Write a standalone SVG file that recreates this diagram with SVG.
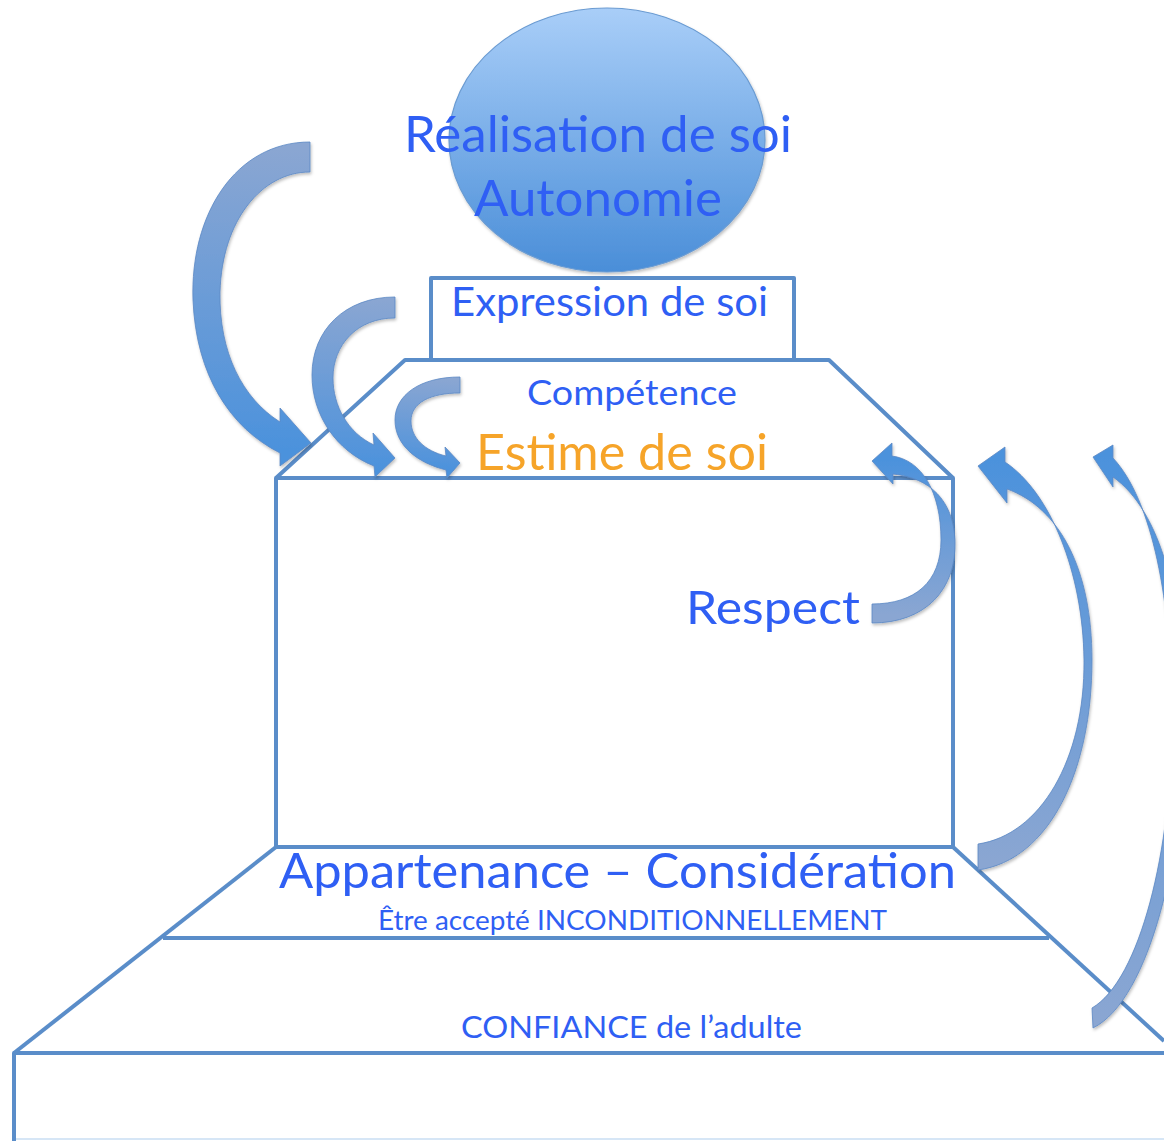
<svg xmlns="http://www.w3.org/2000/svg" width="1164" height="1141" viewBox="0 0 1164 1141">
  <defs>
    <linearGradient id="ballFill" x1="0" y1="0" x2="0" y2="1">
      <stop offset="0" stop-color="#a9cef8"/>
      <stop offset="1" stop-color="#4a8ed8"/>
    </linearGradient>
    <filter id="soft" x="-10%" y="-10%" width="120%" height="120%">
      <feDropShadow dx="1" dy="2" stdDeviation="1.5" flood-color="#000" flood-opacity="0.25"/>
    </filter>
    <linearGradient id="g1" gradientUnits="userSpaceOnUse" x1="310" y1="150" x2="300" y2="450">
      <stop offset="0" stop-color="#8aa6d2"/>
      <stop offset="1" stop-color="#4c92dc"/>
    </linearGradient>
    <linearGradient id="g2" gradientUnits="userSpaceOnUse" x1="395" y1="300" x2="390" y2="470">
      <stop offset="0" stop-color="#8aa6d2"/>
      <stop offset="1" stop-color="#4c92dc"/>
    </linearGradient>
    <linearGradient id="g3" gradientUnits="userSpaceOnUse" x1="460" y1="380" x2="455" y2="470">
      <stop offset="0" stop-color="#8aa6d2"/>
      <stop offset="1" stop-color="#4c92dc"/>
    </linearGradient>
    <linearGradient id="g4" gradientUnits="userSpaceOnUse" x1="880" y1="615" x2="880" y2="460">
      <stop offset="0" stop-color="#8aa6d2"/>
      <stop offset="1" stop-color="#4c92dc"/>
    </linearGradient>
    <linearGradient id="g5" gradientUnits="userSpaceOnUse" x1="985" y1="860" x2="985" y2="460">
      <stop offset="0" stop-color="#8aa6d2"/>
      <stop offset="1" stop-color="#4c92dc"/>
    </linearGradient>
    <linearGradient id="g6" gradientUnits="userSpaceOnUse" x1="1095" y1="1020" x2="1095" y2="455">
      <stop offset="0" stop-color="#8aa6d2"/>
      <stop offset="1" stop-color="#4c92dc"/>
    </linearGradient>
  </defs>
  <style>
    .frame { fill: none; stroke: #5a8dc9; stroke-width: 4; stroke-linejoin: round; }
    .lbl { font-family: Lato, "Open Sans", "Liberation Sans", sans-serif; fill: #2f5ff4; }
    .est { fill: #f6a429; }
    .arrow { stroke: #5a88c4; stroke-width: 0.8; filter: url(#soft); }
  </style>

  <!-- pyramid frame -->
  <g id="base" class="frame">
    <path d="M14,1141 V1053 H1164"/>
    <path d="M276,847 L14,1053"/>
    <path d="M953,847 L1164,1041"/>
    <line x1="16" y1="1139" x2="1164" y2="1139" stroke="#d6e6f6" stroke-width="2"/>
  </g>
  <g id="appartenance" class="frame">
    <path d="M163,938 H1049"/>
  </g>
  <g id="respect" class="frame">
    <rect x="276" y="478" width="677" height="369"/>
  </g>
  <g id="estime" class="frame">
    <path d="M276,478 L405,360 H829 L953,478"/>
  </g>
  <g id="expression" class="frame">
    <path d="M431,360 V278 H794 V360"/>
  </g>
  <g id="realisation">
    <ellipse cx="607" cy="140" rx="158" ry="132" fill="url(#ballFill)" stroke="#6a9bd2" stroke-width="1.2" filter="url(#soft)"/>
  </g>

  <!-- curved arrows -->
  <g id="connectors" class="arrow">
    <path fill="url(#g1)" d="M310,142 C235,142 190,215 193,300 C196,375 230,428 280,453 L280,466 L311,443 L280,408 L280,422 C242,398 219,352 220,292 C222,220 262,172 310,172 Z"/>
    <path fill="url(#g2)" d="M395,297 C345,297 312,330 312,375 C312,415 336,451 374,466 L375,477 L395,458 L373,433 L374,445 C348,433 333,406 333,378 C333,345 357,318 395,318 Z"/>
    <path fill="url(#g3)" d="M460,377 C420,377 395,395 395,420 C395,446 418,463 446,470 L447,478 L460,463 L445,447 L446,456 C425,451 411,438 411,421 C411,403 430,393 460,393 Z"/>
    <path fill="url(#g4)" d="M872,623 C925,623 957,590 955,540 C953,500 930,478 893,474 L893,484 L872,461 L892,443 L892,456 C922,460 941,492 941,540 C941,582 915,604 872,604 Z"/>
    <path fill="url(#g5)" d="M978,870 C1050,860 1092,770 1092,660 C1092,570 1060,508 1007,489 L1007,503 L978,466 L1005,447 L1005,462 C1050,492 1083,572 1084,660 C1085,760 1040,835 978,844 Z"/>
    <path fill="url(#g6)" d="M1093,1028 C1150,1000 1185,850 1185,720 C1185,600 1160,510 1113,477 L1113,487 L1093,457 L1113,445 L1113,458 C1152,500 1172,600 1172,720 C1172,850 1140,980 1092,1008 Z"/>
  </g>

  <!-- labels -->
  <g id="labels" class="lbl">
    <text x="404" y="152" font-size="50" textLength="388" lengthAdjust="spacingAndGlyphs">Réalisation de soi</text>
    <text x="474" y="216" font-size="50" textLength="248" lengthAdjust="spacingAndGlyphs">Autonomie</text>
    <text x="451" y="316" font-size="40" textLength="317" lengthAdjust="spacingAndGlyphs">Expression de soi</text>
    <text x="527" y="405" font-size="35" textLength="210" lengthAdjust="spacingAndGlyphs">Compétence</text>
    <text class="est" x="476" y="470" font-size="50" textLength="292" lengthAdjust="spacingAndGlyphs">Estime de soi</text>
    <text x="686" y="624" font-size="47" textLength="174" lengthAdjust="spacingAndGlyphs">Respect</text>
    <text x="279" y="888" font-size="48" textLength="677" lengthAdjust="spacingAndGlyphs">Appartenance – Considération</text>
    <text x="378" y="930" font-size="27" textLength="509" lengthAdjust="spacingAndGlyphs">Être accepté INCONDITIONNELLEMENT</text>
    <text x="461" y="1038" font-size="30" textLength="341" lengthAdjust="spacingAndGlyphs">CONFIANCE de l’adulte</text>
  </g>
</svg>
